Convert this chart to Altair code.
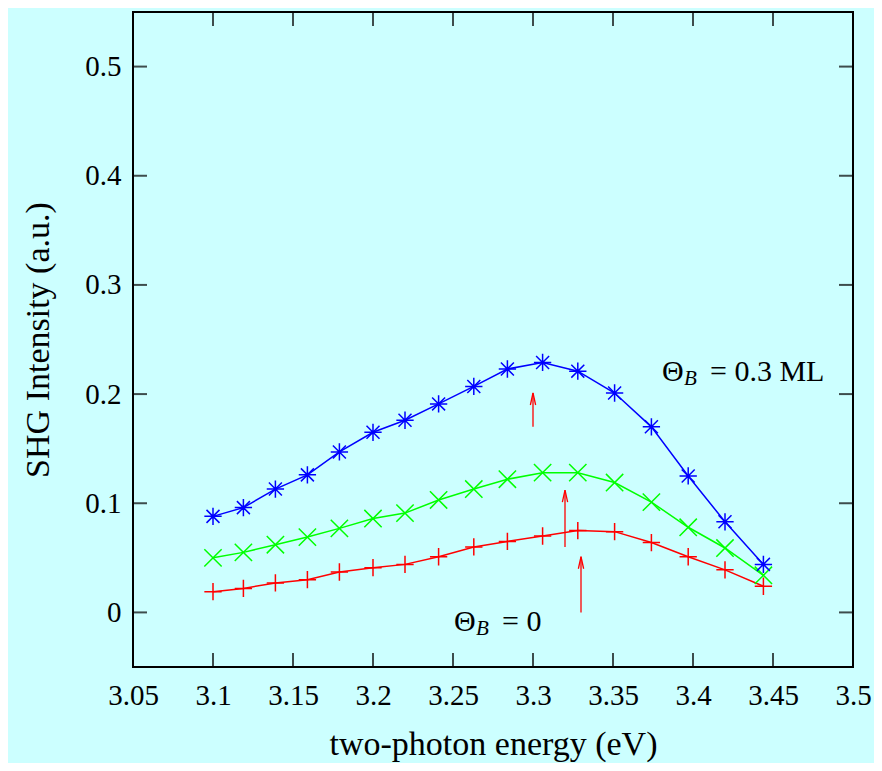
import altair as alt
import pandas as pd

# ---- data ----
energy = [3.100, 3.119, 3.139, 3.159, 3.179, 3.200, 3.220, 3.241, 3.263,
          3.284, 3.306, 3.328, 3.351, 3.374, 3.397, 3.420, 3.444]
blue_vals = [0.088, 0.096, 0.113, 0.126, 0.147, 0.165, 0.176, 0.191, 0.207,
             0.223, 0.229, 0.221, 0.201, 0.170, 0.125, 0.083, 0.044]
green_vals = [0.050, 0.055, 0.062, 0.069, 0.077, 0.086, 0.091, 0.103, 0.113,
              0.122, 0.128, 0.128, 0.119, 0.101, 0.078, 0.059, 0.034]
red_vals = [0.019, 0.022, 0.027, 0.030, 0.037, 0.041, 0.044, 0.051, 0.060,
            0.065, 0.070, 0.075, 0.074, 0.064, 0.051, 0.039, 0.024]

series_names = ["red", "green", "blue"]
series_colors = ["#ff0000", "#00ff00", "#0000ff"]

arrow_x = [3.300, 3.320, 3.330]
arrow_tail = [0.170, 0.060, 0.000]
arrow_tip = [0.201, 0.112, 0.051]

x_ticks = [3.05, 3.10, 3.15, 3.20, 3.25, 3.30, 3.35, 3.40, 3.45, 3.50]
y_ticks = [0.0, 0.1, 0.2, 0.3, 0.4, 0.5]
x_domain = [3.05, 3.5]
y_domain = [-0.05, 0.55]

FONT = "Liberation Serif"
W, H = 720, 655

# ---- tables ----
rows = []
for name, vals in zip(series_names, [red_vals, green_vals, blue_vals]):
    for e, v in zip(energy, vals):
        rows.append({"energy": e, "value": v, "series": name})
df = pd.DataFrame(rows)
arrows = pd.DataFrame({"x": arrow_x, "tail": arrow_tail, "tip": arrow_tip})
xt = pd.DataFrame({"t": x_ticks})
yt = pd.DataFrame({"t": y_ticks})

xs = alt.Scale(domain=x_domain, nice=False, zero=False)
ys = alt.Scale(domain=y_domain, nice=False, zero=False)

XAX = alt.Axis(values=x_ticks, format="~g", title="two-photon energy (eV)",
               titleY=87, titleBaseline="alphabetic",
               labelBaseline="alphabetic", labelPadding=37)
YAX = alt.Axis(values=y_ticks, format="~g", title="SHG Intensity (a.u.)",
               titleX=-85, titleY=H / 2, titleAngle=270, titleAlign="center",
               titleBaseline="alphabetic", labelPadding=12)


def X(field=None, datum=None):
    if datum is not None:
        return alt.X(datum=datum, type="quantitative", scale=xs, axis=XAX)
    return alt.X(field, type="quantitative", scale=xs, axis=XAX)


def Y(field=None, datum=None):
    if datum is not None:
        return alt.Y(datum=datum, type="quantitative", scale=ys, axis=YAX)
    return alt.Y(field, type="quantitative", scale=ys, axis=YAX)


shape_plus = "M-1,0L1,0M0,-1L0,1"
shape_x = "M-1,-1L1,1M-1,1L1,-1"
shape_star = "M-1,0L1,0M0,-1L0,1M-0.75,-0.75L0.75,0.75M-0.75,0.75L0.75,-0.75"

color_enc = alt.Color("series:N", scale=alt.Scale(domain=series_names, range=series_colors), legend=None)

lines = alt.Chart(df).mark_line(strokeWidth=1.5).encode(
    x=X("energy"), y=Y("value"), color=color_enc, detail="series:N",
)

points = alt.Chart(df).mark_point(filled=False, size=300, strokeWidth=1.5, opacity=1).encode(
    x=X("energy"), y=Y("value"), color=color_enc,
    shape=alt.Shape("series:N", scale=alt.Scale(domain=series_names,
                                                 range=[shape_plus, shape_x, shape_star]), legend=None),
)

arrow_shafts = alt.Chart(arrows).mark_rule(color="#ff0000", strokeWidth=1.3).encode(
    x=X("x"), y=Y("tail"), y2="tip:Q",
)
arrow_heads = alt.Chart(arrows).mark_point(
    shape="M-0.22,1L0,0L0.22,1", filled=False, size=576, color="#ff0000", strokeWidth=1.3, opacity=1
).encode(x=X("x"), y=Y("tip"))

tick_common = dict(color="black", thickness=2, size=28, clip=True)
xt_bottom = alt.Chart(xt).mark_tick(orient="vertical", **tick_common).encode(
    x=X("t"), y=alt.value(H))
xt_top = alt.Chart(xt).mark_tick(orient="vertical", **tick_common).encode(
    x=X("t"), y=alt.value(0))
yt_left = alt.Chart(yt).mark_tick(orient="horizontal", **tick_common).encode(
    y=Y("t"), x=alt.value(0))
yt_right = alt.Chart(yt).mark_tick(orient="horizontal", **tick_common).encode(
    y=Y("t"), x=alt.value(W))


def label(x, y, text, dx=0, dy=0, size=30, style="normal"):
    return alt.Chart(pd.DataFrame({"a": [0]})).mark_text(
        text=text, font=FONT, fontSize=size, fontStyle=style, align="left",
        baseline="alphabetic", dx=dx, dy=dy, color="black"
    ).encode(x=X(datum=x), y=Y(datum=y))


ann = [
    label(3.3806, 0.2117, "Θ"),
    label(3.3806, 0.2117, "B", dx=22, dy=4, size=21, style="italic"),
    label(3.3806, 0.2117, "= 0.3 ML", dx=48),
    label(3.2506, -0.0173, "Θ"),
    label(3.2506, -0.0173, "B", dx=22, dy=4, size=21, style="italic"),
    label(3.2506, -0.0173, "= 0", dx=48),
]

chart = alt.layer(
    lines, points, arrow_shafts, arrow_heads, xt_bottom, xt_top, yt_left, yt_right, *ann
).properties(
    width=W, height=H,
    autosize=alt.AutoSizeParams(type="none"),
    padding={"left": 125, "top": 4, "right": 21, "bottom": 96},
    background="#ccffff",
).configure_view(
    stroke="black", strokeWidth=2, fill="#ccffff"
).configure_axis(
    grid=False, domain=False, ticks=False, tickSize=0,
    labelFont=FONT, labelFontSize=29, labelColor="black",
    titleFont=FONT, titleFontSize=34, titleFontWeight="normal", titleColor="black",
    labelFlush=False, labelOverlap=False,
)

chart.save("out.html", embed_options={"renderer": "svg", "actions": False})
